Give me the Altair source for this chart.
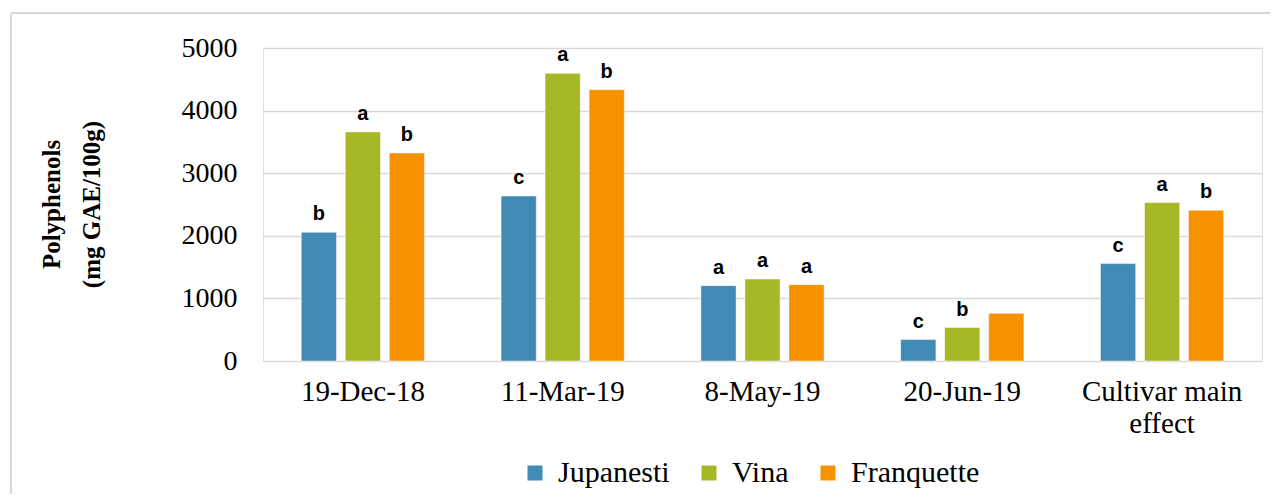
import altair as alt
import pandas as pd

dates = ["19-Dec-18", "11-Mar-19", "8-May-19", "20-Jun-19", "Cultivar main effect"]
cultivars = ["Jupanesti", "Vina", "Franquette"]
jupanesti = [2056, 2636, 1204, 342, 1556]
vina = [3660, 4596, 1310, 534, 2530]
franquette = [3323, 4335, 1220, 762, 2407]
letters_j = ["b", "c", "a", "c", "c"]
letters_v = ["a", "a", "a", "b", "a"]
letters_f = ["b", "b", "a", "", "b"]
colors = ["#418AB3", "#A6B828", "#F69200"]

rows = []
for i, d in enumerate(dates):
    for c, vals, lets in zip(cultivars, [jupanesti, vina, franquette], [letters_j, letters_v, letters_f]):
        rows.append({"date": d, "cultivar": c, "value": vals[i], "letter": lets[i]})
df = pd.DataFrame(rows)

x_enc = alt.X("date:N", sort=dates,
              scale=alt.Scale(paddingInner=0, paddingOuter=0),
              axis=alt.Axis(title=None, labelAngle=0, labelFont="Liberation Serif",
                            labelFontSize=29, labelColor="#000000", ticks=False,
                            domain=False, labelPadding=16, labelLineHeight=32,
                            labelExpr="datum.label == 'Cultivar main effect' ? ['Cultivar main', 'effect'] : datum.label"))
xo_enc = alt.XOffset("cultivar:N", sort=cultivars,
                     scale=alt.Scale(paddingInner=0.2, paddingOuter=0.87))
y_enc = alt.Y("value:Q", scale=alt.Scale(domain=[0, 5000]),
              axis=alt.Axis(title=["Polyphenols", "(mg GAE/100g)"], values=[0, 1000, 2000, 3000, 4000, 5000],
                            format="d",
                            labelFont="Liberation Serif", labelFontSize=28, labelColor="#000000",
                            ticks=False, domain=False, labelPadding=26,
                            gridColor="#d9d9d9", gridWidth=1.5,
                            titleFont="Liberation Serif", titleFontSize=25, titleFontWeight="bold",
                            titleColor="#000000", titleLineHeight=40, titleAngle=-90,
                            titleX=-199, titleY=156, titleAlign="center", titleBaseline="bottom"))

bars = alt.Chart(df).mark_bar(stroke="#ffffff", strokeWidth=0.8, strokeOpacity=0.6).encode(
    x=x_enc, xOffset=xo_enc, y=y_enc,
    color=alt.Color("cultivar:N", sort=cultivars,
                    scale=alt.Scale(domain=cultivars, range=colors),
                    legend=alt.Legend(title=None, orient="none", legendX=257, legendY=410,
                                      direction="horizontal", symbolType="square",
                                      symbolSize=225, symbolStrokeWidth=0,
                                      labelFont="Liberation Serif", labelFontSize=30,
                                      labelColor="#000000", labelOffset=8,
                                      columnPadding=24, labelLimit=400)),
)

text = alt.Chart(df).mark_text(font="Liberation Sans", fontSize=20, fontWeight="bold",
                               color="#000000", baseline="alphabetic", dy=-12).encode(
    x=alt.X("date:N", sort=dates), xOffset=alt.XOffset("cultivar:N", sort=cultivars),
    y="value:Q", text="letter:N"
)

frame_df = pd.DataFrame({"k": [0]})
top_line = alt.Chart(frame_df).mark_rule(color="#d9d9d9", strokeWidth=2).encode(
    x=alt.value(-252), x2=alt.value(1020), y=alt.value(-35))
left_line = alt.Chart(frame_df).mark_rule(color="#d9d9d9", strokeWidth=2).encode(
    x=alt.value(-252), y=alt.value(-35), y2=alt.value(460))

chart = alt.layer(top_line, left_line, bars, text).properties(
    width=999, height=313,
    autosize=alt.AutoSizeParams(type="none"),
    padding={"left": 255, "top": 40, "right": 8, "bottom": 133},
).configure_view(stroke=None).configure(background="#ffffff").configure_legend(
    labelFont="Liberation Serif", labelFontSize=30, labelColor="#000000")

chart.save("out.html", embed_options={"renderer": "svg", "actions": False})
